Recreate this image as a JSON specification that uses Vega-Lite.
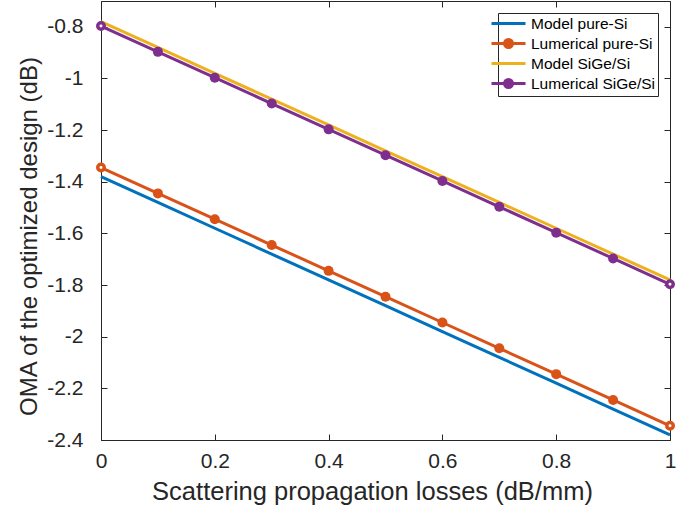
{
  "$schema": "https://vega.github.io/schema/vega-lite/v6.json",
  "width": 569,
  "height": 439,
  "autosize": {"type": "none"},
  "padding": {"left": 101, "top": 1, "right": 19, "bottom": 70},
  "background": "white",
  "config": {
    "view": {"stroke": null},
    "font": "Liberation Sans",
    "axis": {
      "domainColor": "#262626",
      "tickColor": "#262626",
      "labelColor": "#262626",
      "titleColor": "#262626",
      "labelFont": "Liberation Sans",
      "titleFont": "Liberation Sans",
      "labelFontSize": 21,
      "titleFontSize": 25,
      "titleFontWeight": "normal",
      "grid": false,
      "domainWidth": 1,
      "tickWidth": 1,
      "tickSize": -6
    }
  },
  "data": {
    "values": [
      {"x": 0, "y": -1.38, "series": "Model pure-Si"},
      {"x": 0.1, "y": -1.48, "series": "Model pure-Si"},
      {"x": 0.2, "y": -1.58, "series": "Model pure-Si"},
      {"x": 0.3, "y": -1.68, "series": "Model pure-Si"},
      {"x": 0.4, "y": -1.78, "series": "Model pure-Si"},
      {"x": 0.5, "y": -1.88, "series": "Model pure-Si"},
      {"x": 0.6, "y": -1.98, "series": "Model pure-Si"},
      {"x": 0.7, "y": -2.08, "series": "Model pure-Si"},
      {"x": 0.8, "y": -2.18, "series": "Model pure-Si"},
      {"x": 0.9, "y": -2.28, "series": "Model pure-Si"},
      {"x": 1, "y": -2.38, "series": "Model pure-Si"},
      {"x": 0, "y": -1.345, "series": "Lumerical pure-Si"},
      {"x": 0.1, "y": -1.445, "series": "Lumerical pure-Si"},
      {"x": 0.2, "y": -1.545, "series": "Lumerical pure-Si"},
      {"x": 0.3, "y": -1.645, "series": "Lumerical pure-Si"},
      {"x": 0.4, "y": -1.745, "series": "Lumerical pure-Si"},
      {"x": 0.5, "y": -1.845, "series": "Lumerical pure-Si"},
      {"x": 0.6, "y": -1.945, "series": "Lumerical pure-Si"},
      {"x": 0.7, "y": -2.045, "series": "Lumerical pure-Si"},
      {"x": 0.8, "y": -2.145, "series": "Lumerical pure-Si"},
      {"x": 0.9, "y": -2.245, "series": "Lumerical pure-Si"},
      {"x": 1, "y": -2.345, "series": "Lumerical pure-Si"},
      {"x": 0, "y": -0.78, "series": "Model SiGe/Si"},
      {"x": 0.1, "y": -0.88, "series": "Model SiGe/Si"},
      {"x": 0.2, "y": -0.98, "series": "Model SiGe/Si"},
      {"x": 0.3, "y": -1.08, "series": "Model SiGe/Si"},
      {"x": 0.4, "y": -1.18, "series": "Model SiGe/Si"},
      {"x": 0.5, "y": -1.28, "series": "Model SiGe/Si"},
      {"x": 0.6, "y": -1.38, "series": "Model SiGe/Si"},
      {"x": 0.7, "y": -1.48, "series": "Model SiGe/Si"},
      {"x": 0.8, "y": -1.58, "series": "Model SiGe/Si"},
      {"x": 0.9, "y": -1.68, "series": "Model SiGe/Si"},
      {"x": 1, "y": -1.78, "series": "Model SiGe/Si"},
      {"x": 0, "y": -0.797, "series": "Lumerical SiGe/Si"},
      {"x": 0.1, "y": -0.897, "series": "Lumerical SiGe/Si"},
      {"x": 0.2, "y": -0.997, "series": "Lumerical SiGe/Si"},
      {"x": 0.3, "y": -1.097, "series": "Lumerical SiGe/Si"},
      {"x": 0.4, "y": -1.197, "series": "Lumerical SiGe/Si"},
      {"x": 0.5, "y": -1.297, "series": "Lumerical SiGe/Si"},
      {"x": 0.6, "y": -1.397, "series": "Lumerical SiGe/Si"},
      {"x": 0.7, "y": -1.497, "series": "Lumerical SiGe/Si"},
      {"x": 0.8, "y": -1.597, "series": "Lumerical SiGe/Si"},
      {"x": 0.9, "y": -1.697, "series": "Lumerical SiGe/Si"},
      {"x": 1, "y": -1.797, "series": "Lumerical SiGe/Si"}
    ]
  },
  "resolve": {"axis": {"x": "independent", "y": "independent"}},
  "layer": [
    {
      "mark": {"type": "line", "strokeWidth": 3, "clip": false},
      "encoding": {
        "x": {
          "field": "x", "type": "quantitative",
          "scale": {"domain": [0, 1], "nice": false, "zero": false},
          "axis": {
            "orient": "bottom",
            "title": "Scattering propagation losses (dB/mm)",
            "values": [0, 0.2, 0.4, 0.6, 0.8, 1],
            "format": "~g",
            "labelPadding": 16,
            "titlePadding": 8,
            "titleFontSize": 25.5,
            "titleX": 271,
            "labelFlush": false
          }
        },
        "y": {
          "field": "y", "type": "quantitative",
          "scale": {"domain": [-2.4, -0.7], "nice": false, "zero": false},
          "axis": {
            "orient": "left",
            "title": "OMA of the optimized design (dB)",
            "values": [-2.4, -2.2, -2, -1.8, -1.6, -1.4, -1.2, -1, -0.8],
            "format": "~g",
            "labelExpr": "replace(datum.label, '\u2212', '-')",
            "labelPadding": 24,
            "titlePadding": 5,
            "titleFontSize": 24,
            "titleY": 235,
            "labelFlush": false
          }
        },
        "color": {
          "field": "series", "type": "nominal",
          "scale": {
            "domain": ["Model pure-Si", "Lumerical pure-Si", "Model SiGe/Si", "Lumerical SiGe/Si"],
            "range": ["#0072BD", "#D95319", "#EDB120", "#7E2F8E"]
          },
          "legend": {
            "title": null,
            "orient": "top-right",
            "offset": 12,
            "fillColor": "white",
            "strokeColor": "#262626",
            "padding": 2,
            "labelFont": "Liberation Sans",
            "labelFontSize": 15.5,
            "labelColor": "#000000",
            "labelOffset": 14,
            "rowPadding": 1,
            "symbolSize": 196,
            "symbolStrokeWidth": 3,
            "symbolOpacity": 1,
            "encode": {
              "symbols": {
                "update": {
                  "shape": {"signal": "indexof(datum.value, 'Lumerical') >= 0 ? 'M-2.43,0H2.43M0.571,0A0.571,0.571,0,1,1,-0.571,0A0.571,0.571,0,1,1,0.571,0Z' : 'M-2.43,0H2.43'"},
                  "stroke": {"signal": "scale('color', datum.value)"},
                  "fill": {"signal": "scale('color', datum.value)"}
                }
              }
            }
          }
        }
      }
    },
    {
      "transform": [
        {"filter": "indexof(datum.series, 'Lumerical') >= 0 && datum.x > 0 && datum.x < 1"}
      ],
      "mark": {"type": "point", "shape": "circle", "filled": true, "size": 100, "strokeWidth": 0, "opacity": 1, "clip": false},
      "encoding": {
        "x": {
          "field": "x", "type": "quantitative",
          "axis": {"orient": "top", "labels": false, "title": null, "values": [0, 0.2, 0.4, 0.6, 0.8, 1]}
        },
        "y": {
          "field": "y", "type": "quantitative",
          "axis": {"orient": "right", "labels": false, "title": null, "values": [-2.4, -2.2, -2, -1.8, -1.6, -1.4, -1.2, -1, -0.8]}
        },
        "color": {"field": "series", "type": "nominal"}
      }
    },
    {
      "transform": [
        {"filter": "indexof(datum.series, 'Lumerical') >= 0 && (datum.x == 0 || datum.x == 1)"}
      ],
      "mark": {"type": "point", "shape": "circle", "filled": false, "fill": "white", "fillOpacity": 1, "size": 42, "strokeWidth": 3.5, "opacity": 1, "clip": false},
      "encoding": {
        "x": {"field": "x", "type": "quantitative", "axis": null},
        "y": {"field": "y", "type": "quantitative", "axis": null},
        "color": {"field": "series", "type": "nominal"}
      }
    }
  ]
}
